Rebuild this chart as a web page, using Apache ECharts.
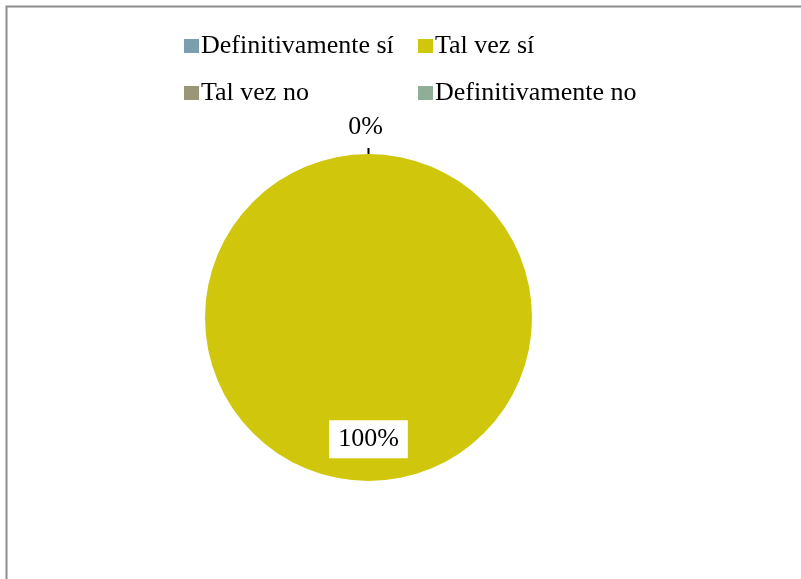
<!DOCTYPE html>
<html>
<head>
<meta charset="utf-8">
<script src="https://cdn.jsdelivr.net/npm/echarts@6/dist/echarts.min.js"></script>
<style>
  html, body { margin: 0; padding: 0; background: #ffffff; }
  #chart { width: 801px; height: 579px; }
</style>
</head>
<body>
<div id="chart"></div>
<script>
// Response categories and their share of answers (percent)
const categories = ['Definitivamente sí', 'Tal vez sí', 'Tal vez no', 'Definitivamente no'];
const values = [0, 100, 0, 0];
const colors = ['#7b9fae', '#d0c70d', '#9a9779', '#8fae97'];

const serif = '"Liberation Serif", "Times New Roman", serif';

const data = categories.map((name, i) => ({
  name: name,
  value: values[i],
  label: values[i] > 0
    ? { position: 'inside', backgroundColor: '#ffffff', padding: [7, 9, 5, 9] }
    : { position: 'outside' },
  labelLine: { show: values[i] === 0 }
}));

// Legend laid out as two columns: even entries on the left, odd on the right
function legendColumn(left, names) {
  return {
    left: left,
    top: 33,
    padding: 0,
    orient: 'vertical',
    itemWidth: 15,
    itemHeight: 14,
    itemGap: 21,
    icon: 'rect',
    data: names,
    textStyle: {
      fontFamily: serif,
      fontSize: 26,
      color: '#000000',
      padding: [0, 0, 0, -3]
    }
  };
}

const chart = echarts.init(document.getElementById('chart'), null, { renderer: 'canvas' });

chart.setOption({
  backgroundColor: '#ffffff',
  animation: false,
  color: colors,
  graphic: [{
    type: 'rect',
    left: 4, top: 4,
    shape: { width: 830, height: 620 },
    style: { fill: 'none', stroke: '#8c8c8c', lineWidth: 2 },
    silent: true
  }],
  legend: [
    legendColumn(184, categories.filter((_, i) => i % 2 === 0)),
    legendColumn(418, categories.filter((_, i) => i % 2 === 1))
  ],
  series: [{
    type: 'pie',
    center: [368.5, 317.5],
    radius: 163.5,
    startAngle: 90,
    clockwise: true,
    avoidLabelOverlap: false,
    silent: true,
    label: {
      formatter: '{d}%',
      fontFamily: serif,
      fontSize: 26,
      color: '#000000',
      distanceToLabelLine: 0
    },
    labelLine: {
      length: 6,
      length2: 0,
      lineStyle: { color: '#000000', width: 2 }
    },
    labelLayout: function (p) {
      if (values[p.dataIndex] > 0) {
        return { dy: 37 };
      }
      return { align: 'center', dx: -3, dy: -21, hideOverlap: true };
    },
    itemStyle: { borderWidth: 0 },
    data: data
  }]
});
</script>
</body>
</html>
